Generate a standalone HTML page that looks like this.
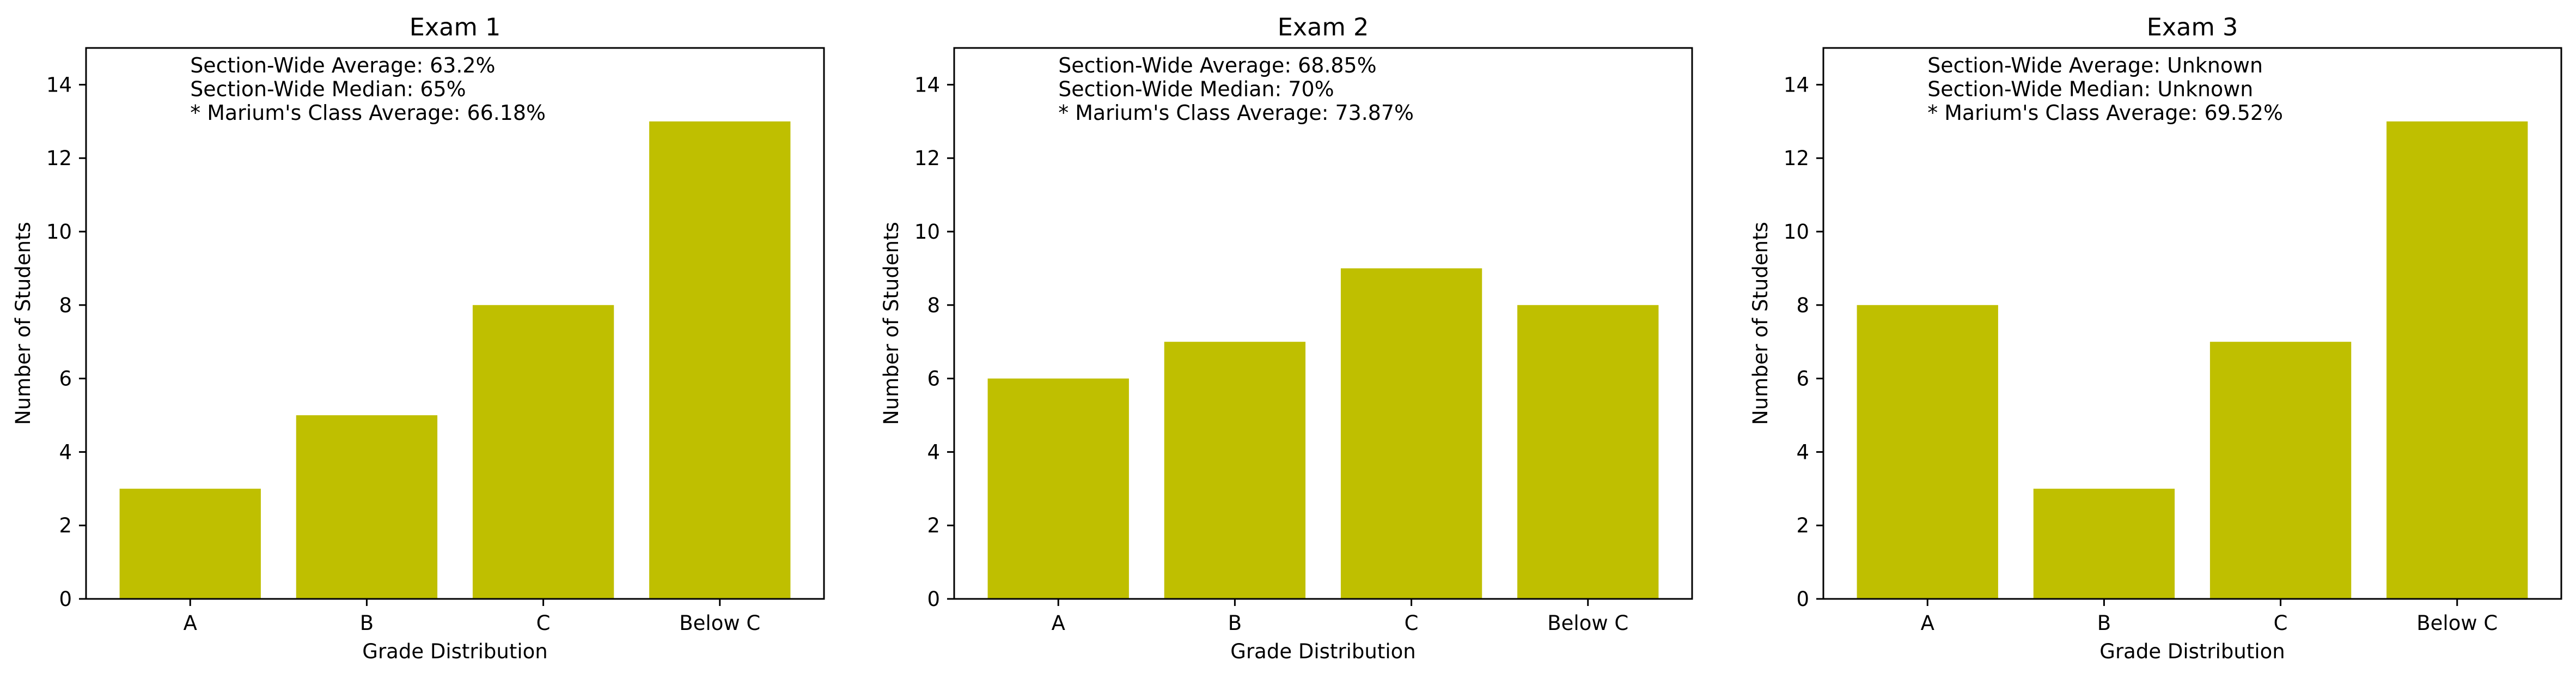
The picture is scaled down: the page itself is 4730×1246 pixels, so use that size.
<!DOCTYPE html>
<html><head><meta charset="utf-8"><style>
html,body{margin:0;padding:0;background:#fff;}
svg{display:block;font-family:"DejaVu Sans","Liberation Sans",sans-serif;}
</style></head><body>
<svg id="chart" width="4730" height="1246" viewBox="0 0 4730 1246" xmlns="http://www.w3.org/2000/svg"></svg>
<script>
const categories = ["A", "B", "C", "Below C"];
const exam1Values = [3, 5, 8, 13];
const exam2Values = [6, 7, 9, 8];
const exam3Values = [8, 3, 7, 13];
const titles = ["Exam 1", "Exam 2", "Exam 3"];
const yTicks = [0, 2, 4, 6, 8, 10, 12, 14];
const notes1 = ["Section-Wide Average: 63.2%", "Section-Wide Median: 65%", "* Marium's Class Average: 66.18%"];
const notes2 = ["Section-Wide Average: 68.85%", "Section-Wide Median: 70%", "* Marium's Class Average: 73.87%"];
const notes3 = ["Section-Wide Average: Unknown", "Section-Wide Median: Unknown", "* Marium's Class Average: 69.52%"];

const svg = document.getElementById('chart');
const NS = 'http://www.w3.org/2000/svg';
function mk(tag, attrs, parent){const e=document.createElementNS(NS,tag);for(const k in attrs)e.setAttribute(k,attrs[k]);parent.appendChild(e);return e;}

const panelLefts = [158, 1752, 3348];
const W = 1355, TOP = 88, BOT = 1099;
const yMax = 15, xMin = -0.59, xMax = 3.59;
const series = [exam1Values, exam2Values, exam3Values];
const notes = [notes1, notes2, notes3];

series.forEach((vals, p) => {
  const L = panelLefts[p];
  const g = mk('g', {}, svg);
  
  
  const xs = v => L + (v - xMin) / (xMax - xMin) * W;
  const ys = v => BOT - v / yMax * (BOT - TOP);
  vals.forEach((v, i) => {
    const r = mk('rect', {x: xs(i-0.4), y: ys(v), width: xs(i+0.4)-xs(i-0.4), height: ys(0)-ys(v), fill: '#bfbf00'}, g);
    
    
  });
  const frame = mk('rect', {x: L, y: TOP, width: W, height: BOT-TOP, fill: 'none', stroke: '#000', 'stroke-width': 3}, g);
  
  
  yTicks.forEach(t => {
    const y = ys(t);
    mk('line', {x1: L-13, x2: L, y1: y, y2: y, stroke: '#000', 'stroke-width': 3}, g);
    const tx = mk('text', {x: L-26, y: y+13, 'font-size': 37, 'text-anchor': 'end', fill: '#000'}, g);
    tx.textContent = t;
    
    
  });
  categories.forEach((c, i) => {
    const x = xs(i);
    mk('line', {x1: x, x2: x, y1: BOT, y2: BOT+13, stroke: '#000', 'stroke-width': 3}, g);
    const tx = mk('text', {x: x, y: 1156, 'font-size': 37, 'text-anchor': 'middle', fill: '#000'}, g);
    tx.textContent = c;
    
    
  });
  const title = mk('text', {x: L + W/2, y: 65, 'font-size': 44.5, 'text-anchor': 'middle', fill: '#000'}, g);
  title.textContent = titles[p];
  
  
  const xl = mk('text', {x: L + W/2, y: 1208, 'font-size': 37, 'text-anchor': 'middle', fill: '#000'}, g);
  xl.textContent = 'Grade Distribution';
  
  
  const yl = mk('text', {x: 0, y: 0, 'font-size': 37, 'text-anchor': 'middle', fill: '#000', transform: 'translate(' + (L-103) + ',' + ((TOP+BOT)/2) + ') rotate(-90)'}, g);
  yl.textContent = 'Number of Students';
  
  
  notes[p].forEach((n, k) => {
    const t = mk('text', {x: xs(0), y: 133 + k*43.5, 'font-size': 37.9, fill: '#000'}, g);
    t.textContent = n;
    
    
  });
});
</script>
</body></html>
